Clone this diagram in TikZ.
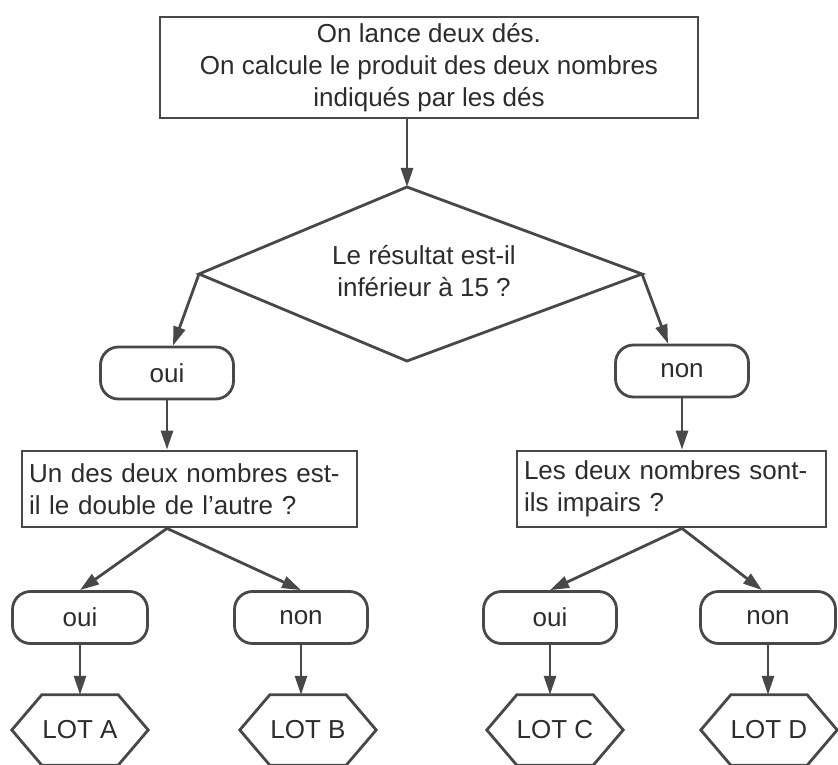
\documentclass[tikz,border=0pt]{standalone}
\usepackage{fontspec}
\setmainfont{Liberation Sans}
\usetikzlibrary{arrows.meta}
\definecolor{ink}{HTML}{484848}
\definecolor{txt}{HTML}{2c2c2c}
\begin{document}
\begin{tikzpicture}[x=1pt,y=-1pt,
  every node/.style={font=\fontsize{26pt}{32pt}\selectfont, text=txt},
  line/.style={draw=ink, line width=2.8pt, line join=miter},
  arr/.style={draw=ink, line width=2.8pt, -{Triangle[length=19pt,width=12pt]}, fill=ink},
  boxstyle/.style={line, rectangle, inner sep=0pt},
  leftbox/.style={line, rectangle, inner xsep=7pt, inner ysep=0pt, align=left},
  pill/.style={line, rounded corners=18pt, minimum width=133pt, minimum height=52pt, inner sep=0pt},
  hexnode/.style={minimum width=136pt, minimum height=70pt, inner sep=0pt}
]
\useasboundingbox (0,0) rectangle (838,765);
\fill[white] (0,0) rectangle (838,765);

% top box
\node[boxstyle, minimum width=538pt, minimum height=101pt, align=center] (top) at (429,67.5)
  {On lance deux dés.\\On calcule le produit des deux nombres\\indiqués par les dés};

% decision diamond (slightly skewed, drawn from its corners)
\coordinate (qN) at (407,187);
\coordinate (qW) at (199,274);
\coordinate (qE) at (642,274);
\coordinate (qS) at (407,361);
\draw[line] (qN) -- (qE) -- (qS) -- (qW) -- cycle;
\node[align=center, inner sep=0pt] (q) at (424,271)
  {Le résultat est-il\\inférieur à 15~?};

% first answers
\node[pill] (oui1) at (167,373) {oui};
\node[pill] (non1) at (682,371) {non};

% second questions
\node[leftbox, text width=321pt, minimum height=76pt] (lbox) at (189.5,489)
  {Un des deux nombres est-\\il le double de l'autre~?};
\node[leftbox, text width=295pt, minimum height=76pt] (rbox) at (671.5,489)
  {Les deux nombres sont-\\ils impairs~?};

% second answers
\node[pill, minimum width=135pt] (ouiA) at (80,617.5) {oui};
\node[pill] (nonB) at (301,617.5) {non};
\node[pill] (ouiC) at (550,617.5) {oui};
\node[pill, minimum width=135pt] (nonD) at (768,617.5) {non};

% results (hexagons)
\node[hexnode] (hA) at (80,730) {LOT A};
\node[hexnode] (hB) at (308,730) {LOT B};
\node[hexnode] (hC) at (555,730) {LOT C};
\node[hexnode] (hD) at (769,730) {LOT D};
\foreach \h in {hA,hB,hC,hD}{
  \draw[line] (\h.west) -- ([xshift=30pt]\h.north west) -- ([xshift=-30pt]\h.north east)
    -- (\h.east) -- ([xshift=-30pt]\h.south east) -- ([xshift=30pt]\h.south west) -- cycle;
}

% connectors
\draw[arr] (top.south -| qN) -- (qN);
\draw[arr] (qW) -- ([xshift=6pt]oui1.north);
\draw[arr] (qE) -- ([xshift=-14pt]non1.north);
\draw[arr] (oui1.south) -- (oui1.south |- lbox.north);
\draw[arr] (non1.south) -- (non1.south |- rbox.north);
\draw[arr] (lbox.south -| oui1.south) -- (ouiA.north);
\draw[arr] (lbox.south -| oui1.south) -- (nonB.north);
\draw[arr] (rbox.south -| non1.south) -- (ouiC.north);
\draw[arr] (rbox.south -| non1.south) -- ([xshift=-6pt]nonD.north);
\draw[arr] (ouiA.south) -- (ouiA.south |- hA.north);
\draw[arr] (nonB.south) -- (nonB.south |- hB.north);
\draw[arr] (ouiC.south) -- (ouiC.south |- hC.north);
\draw[arr] (nonD.south) -- (nonD.south |- hD.north);
\end{tikzpicture}
\end{document}
